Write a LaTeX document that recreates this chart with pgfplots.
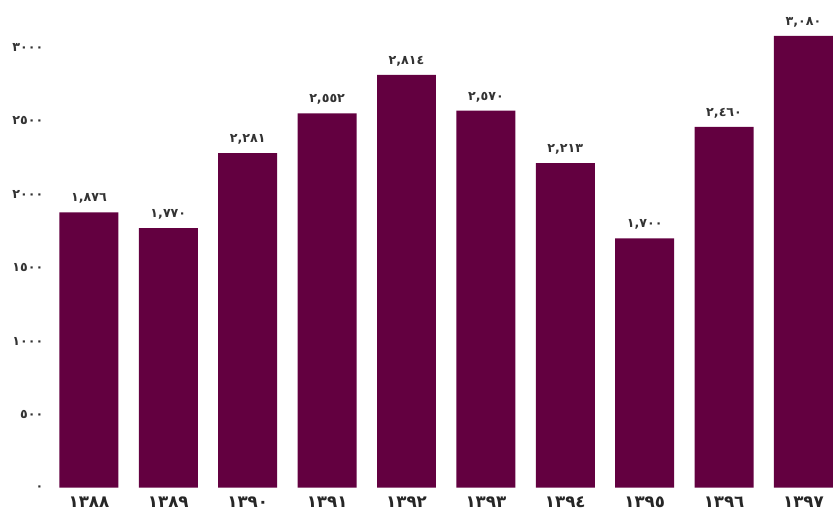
\documentclass[border=0pt]{standalone}
\usepackage{pgfplots}
\pgfplotsset{compat=1.18}
\usepackage{pgfplotstable}
\usepackage{fontspec}
\setmainfont{DejaVu Sans}
\definecolor{barc}{RGB}{99,0,64}

\pgfplotstableread{
x y lab
0 1876 ١,٨٧٦
1 1770 ١,٧٧٠
2 2281 ٢,٢٨١
3 2552 ٢,٥٥٢
4 2814 ٢,٨١٤
5 2570 ٢,٥٧٠
6 2213 ٢,٢١٣
7 1700 ١,٧٠٠
8 2460 ٢,٤٦٠
9 3080 ٣,٠٨٠
}\data

\begin{document}
\begin{tikzpicture}
\begin{axis}[
    name=ax,
    scale only axis,
    width=589.1pt, height=366pt,
    ybar, bar width=44.25pt,
    xmin=-0.516, xmax=9.372,
    ymin=0, ymax=3324,
    axis line style={draw=none},
    tick style={draw=none},
    major tick length=0pt,
    xtick=data,
    xticklabels={١٣٨٨,١٣٨٩,١٣٩٠,١٣٩١,١٣٩٢,١٣٩٣,١٣٩٤,١٣٩٥,١٣٩٦,١٣٩٧},
    ytick={0,500,1000,1500,2000,2500,3000},
    yticklabels={٠,٥٠٠,١٠٠٠,١٥٠٠,٢٠٠٠,٢٥٠٠,٣٠٠٠},
    xticklabel style={font=\bfseries\fontsize{12.5}{13}\selectfont, text=black!85,
        anchor=center, yshift=-11pt},
    yticklabel style={font=\bfseries\fontsize{9.5}{10}\selectfont, text=black!80},
    nodes near coords,
    point meta=explicit symbolic,
    nodes near coords style={font=\bfseries\fontsize{9.5}{10}\selectfont, text=black!80,
        yshift=3pt},
    clip=false,
]
\addplot[fill=barc, draw=none] table[x=x, y=y, meta=lab] {\data};
\end{axis}
\pgfresetboundingbox
\path ([xshift=-36pt,yshift=-22.5pt]ax.south west) rectangle (ax.north east);
\end{tikzpicture}
\end{document}
